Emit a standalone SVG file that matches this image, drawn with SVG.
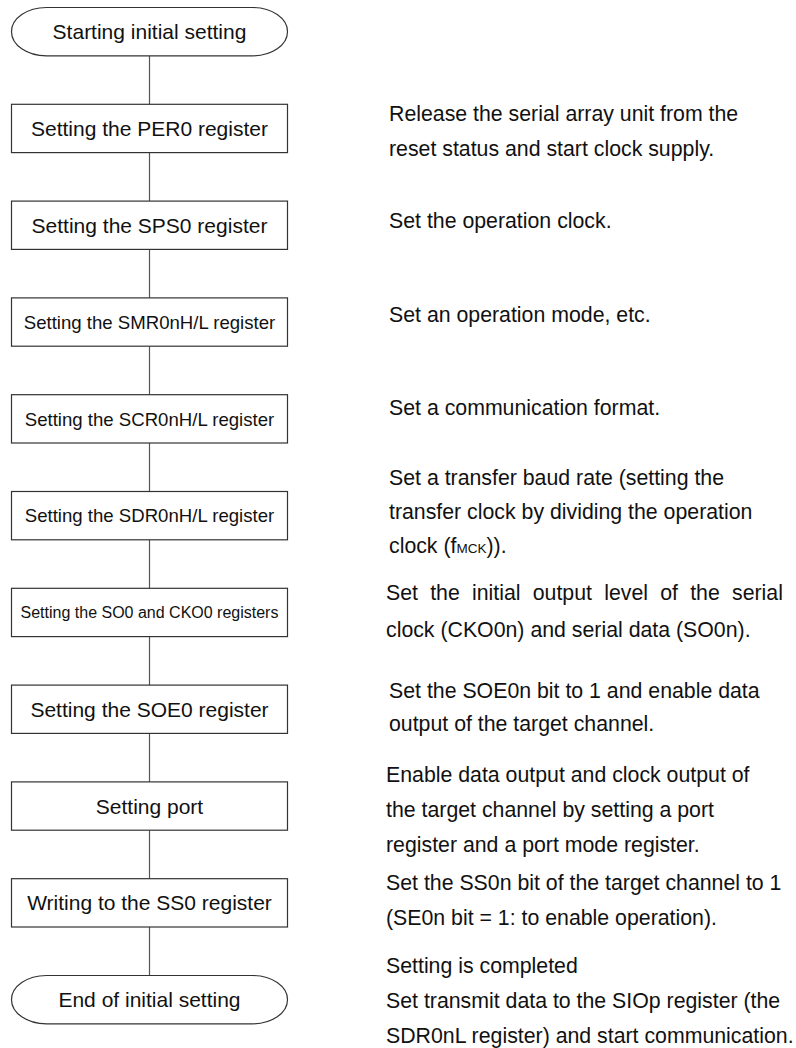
<svg xmlns="http://www.w3.org/2000/svg" width="796" height="1048" viewBox="0 0 796 1048">
<style>
.shape{fill:#fff;stroke:#333;stroke-width:1.2}
.conn{stroke:#555;stroke-width:1.2;fill:none}
.t{font-family:"Liberation Sans",Arial,sans-serif;font-size:21px;fill:#111}
.n{font-size:21.3px}
.c{text-anchor:middle}
.m{font-size:18.6px}
.s{font-size:16px}
</style>
<rect width="796" height="1048" fill="#fff"/>
<g id="connectors">
<line class="conn" x1="149.5" y1="55.8" x2="149.5" y2="104.3"/>
<line class="conn" x1="149.5" y1="152.6" x2="149.5" y2="201.1"/>
<line class="conn" x1="149.5" y1="249.4" x2="149.5" y2="297.9"/>
<line class="conn" x1="149.5" y1="346.2" x2="149.5" y2="394.7"/>
<line class="conn" x1="149.5" y1="443" x2="149.5" y2="491.5"/>
<line class="conn" x1="149.5" y1="539.8" x2="149.5" y2="588.3"/>
<line class="conn" x1="149.5" y1="636.6" x2="149.5" y2="685.1"/>
<line class="conn" x1="149.5" y1="733.4" x2="149.5" y2="781.9"/>
<line class="conn" x1="149.5" y1="830.2" x2="149.5" y2="878.7"/>
<line class="conn" x1="149.5" y1="927" x2="149.5" y2="975.5"/>
</g>
<g id="start">
<path class="shape" d="M46.5,7.5 H252.5 A35 24.15 0 0 1 252.5 55.8 H46.5 A35 24.15 0 0 1 46.5 7.5 Z"/>
<text class="t c" x="149.5" y="39.2">Starting initial setting</text>
</g>
<g id="per0">
<rect class="shape" x="11.5" y="104.3" width="276" height="48.3"/>
<text class="t c" x="149.5" y="136">Setting the PER0 register</text>
</g>
<g id="sps0">
<rect class="shape" x="11.5" y="201.1" width="276" height="48.3"/>
<text class="t c" x="149.5" y="232.8">Setting the SPS0 register</text>
</g>
<g id="smr0n">
<rect class="shape" x="11.5" y="297.9" width="276" height="48.3"/>
<text class="t c m" x="149.5" y="328.7">Setting the SMR0nH/L register</text>
</g>
<g id="scr0n">
<rect class="shape" x="11.5" y="394.7" width="276" height="48.3"/>
<text class="t c m" x="149.5" y="425.5">Setting the SCR0nH/L register</text>
</g>
<g id="sdr0n">
<rect class="shape" x="11.5" y="491.5" width="276" height="48.3"/>
<text class="t c m" x="149.5" y="522.3">Setting the SDR0nH/L register</text>
</g>
<g id="so0cko0">
<rect class="shape" x="11.5" y="588.3" width="276" height="48.3"/>
<text class="t c s" x="149.5" y="618.2">Setting the SO0 and CKO0 registers</text>
</g>
<g id="soe0">
<rect class="shape" x="11.5" y="685.1" width="276" height="48.3"/>
<text class="t c" x="149.5" y="716.8">Setting the SOE0 register</text>
</g>
<g id="port">
<rect class="shape" x="11.5" y="781.9" width="276" height="48.3"/>
<text class="t c" x="149.5" y="813.6">Setting port</text>
</g>
<g id="ss0">
<rect class="shape" x="11.5" y="878.7" width="276" height="48.3"/>
<text class="t c" x="149.5" y="910.4">Writing to the SS0 register</text>
</g>
<g id="end">
<path class="shape" d="M46.5,975.5 H252.5 A35 24.15 0 0 1 252.5 1023.8 H46.5 A35 24.15 0 0 1 46.5 975.5 Z"/>
<text class="t c" x="149.5" y="1007.2">End of initial setting</text>
</g>
<g id="notes">
<text class="t n" x="389" y="120.7">Release the serial array unit from the</text>
<text class="t n" x="389" y="156">reset status and start clock supply.</text>
<text class="t n" x="389" y="228.3">Set the operation clock.</text>
<text class="t n" x="389" y="321.7">Set an operation mode, etc.</text>
<text class="t n" x="389" y="415">Set a communication format.</text>
<text class="t n" x="389" y="485">Set a transfer baud rate (setting the</text>
<text class="t n" x="389" y="519">transfer clock by dividing the operation</text>
<text class="t n" x="389" y="553.3">clock (f<tspan font-size="13.5">MCK</tspan>)).</text>
<text class="t n" x="386" y="600" word-spacing="6.3">Set the initial output level of the serial</text>
<text class="t n" x="386" y="636.7">clock (CKO0n) and serial data (SO0n).</text>
<text class="t n" x="389" y="698.3">Set the SOE0n bit to 1 and enable data</text>
<text class="t n" x="389" y="731.2">output of the target channel.</text>
<text class="t n" x="386" y="781.7">Enable data output and clock output of</text>
<text class="t n" x="386" y="816.7">the target channel by setting a port</text>
<text class="t n" x="386" y="851.7">register and a port mode register.</text>
<text class="t n" x="386" y="890">Set the SS0n bit of the target channel to 1</text>
<text class="t n" x="386" y="925">(SE0n bit = 1: to enable operation).</text>
<text class="t n" x="386" y="973.3">Setting is completed</text>
<text class="t n" x="386" y="1008.3">Set transmit data to the SIOp register (the</text>
<text class="t n" x="386" y="1043.3">SDR0nL register) and start communication.</text>
</g>
</svg>
